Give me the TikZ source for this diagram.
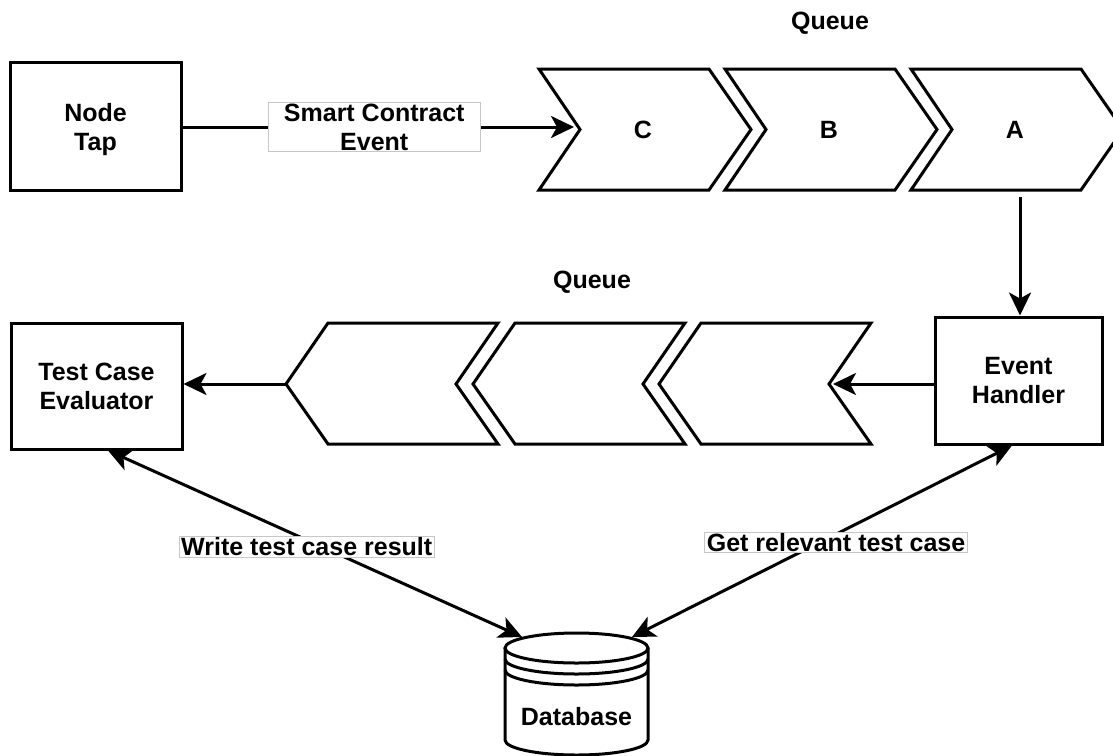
\documentclass[tikz,border=0pt]{standalone}
\usepackage{fontspec}
\setmainfont{Liberation Sans}
\usetikzlibrary{arrows.meta}

\tikzset{
  txt/.style={font=\fontsize{25}{29}\selectfont\bfseries, text=black},
  outline/.style={draw=black, line width=3pt},
  box/.style={txt, outline, fill=white, align=center, inner sep=0pt},
  elabel/.style={txt, fill=white, draw=black!22, line width=0.8pt, align=center,
                 inner xsep=2pt, inner ysep=1pt},
  >={Stealth[length=23pt, width=22pt, inset=6pt]},
  conn/.style={line width=3pt, draw=black, ->},
  biconn/.style={line width=3pt, draw=black, <->},
}

\begin{document}
\begin{tikzpicture}[x=1pt, y=-1pt]
  \fill[white] (0,0) rectangle (1113,755);
  \useasboundingbox (0,0) rectangle (1113,755);

  % boxes
  \node[box, text depth=0pt, minimum width=171pt, minimum height=128pt] (tap) at (95.5,126.5) {Node\\Tap};
  \node[box, minimum width=171pt, minimum height=126pt] (tce) at (96.5,386) {Test Case\\Evaluator};
  \node[box, minimum width=167pt, minimum height=127pt] (eh) at (1018.5,380.5) {Event\\Handler};

  % incoming queue (chevrons pointing right)
  \node[txt] (q1label) at (830,23) {Queue};
  \foreach \L/\t/\n in {539/C/qc, 725/B/qb, 911/A/qa} {
    \draw[outline, fill=white] (\L,69) -- (\L+170,69) -- (\L+212,129.5) -- (\L+170,190)
      -- (\L,190) -- (\L+41,129.5) -- cycle;
    \node[txt] (\n) at (\L+104,129.5) {\t};
    \coordinate (\n-notch) at (\L+41,129.5);
  }
  \coordinate (qa-bottom) at (1020,190);

  % outgoing queue (chevrons pointing left)
  \node[txt] (q2label) at (592,282) {Queue};
  \foreach \T/\n in {286/p1, 473/p2, 659/p3} {
    \draw[outline, fill=white] (\T,384) -- (\T+42,323) -- (\T+212,323) -- (\T+170,384)
      -- (\T+212,444) -- (\T+42,444) -- cycle;
    \coordinate (\n-tip) at (\T,384);
    \coordinate (\n-notch) at (\T+170,384);
  }

  % database
  \begin{scope}[outline, fill=white]
    \draw (505,648) -- (505,740) arc[start angle=180, end angle=360, x radius=71.5pt, y radius=15pt]
      -- (648,648);
    \draw (576.5,648) ellipse[x radius=71.5pt, y radius=15pt];
    \draw (505,659) arc[start angle=180, end angle=360, x radius=71.5pt, y radius=15pt];
    \draw (505,670) arc[start angle=180, end angle=360, x radius=71.5pt, y radius=15pt];
  \end{scope}
  \node[txt] (db) at (576.5,717) {Database};
  \coordinate (db-left) at (522,637);
  \coordinate (db-right) at (632,637);

  % connectors
  \draw[conn, shorten >=6pt] (tap.east |- 0,127) -- (qc-notch |- 0,127)
    node[elabel, midway, xshift=-7pt, text depth=0pt, minimum width=212pt, minimum height=46pt]
      (evlabel) {Smart Contract\\Event};
  \draw[conn, shorten <=7pt] (qa-bottom) -- (qa-bottom |- eh.north);
  \draw[conn, shorten >=4pt] (eh.west |- p3-notch) -- (p3-notch);
  \draw[conn] (p1-tip) -- (tce.east |- p1-tip);
  \draw[biconn] ([xshift=11.5pt]tce.south) -- (db-left)
    node[elabel, pos=0.48, yshift=-7pt] (wlabel) {Write test case result};
  \draw[biconn] ([xshift=-6.5pt]eh.south) -- (db-right)
    node[elabel, pos=0.463, yshift=-8pt] (glabel) {Get relevant test case};
\end{tikzpicture}
\end{document}
